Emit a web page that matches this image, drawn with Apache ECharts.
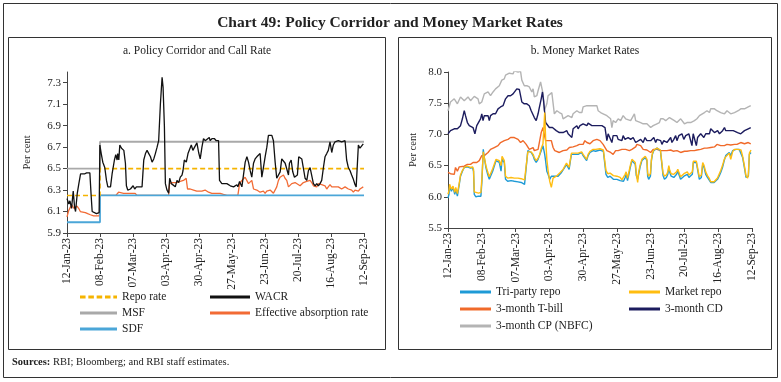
<!DOCTYPE html>
<html><head><meta charset="utf-8">
<script src="https://cdn.jsdelivr.net/npm/echarts@6/dist/echarts.min.js"></script>
<style>html,body{margin:0;padding:0;background:#fff}#c{width:781px;height:382px}</style>
</head><body><div id="c"></div>
<script>
// ---------- DATA ----------
const xTickDays = [0, 27, 54, 81, 108, 135, 162, 189, 216, 243]; // days since 12-Jan-23
const xTickLabels = ['12-Jan-23','08-Feb-23','07-Mar-23','03-Apr-23','30-Apr-23','27-May-23','23-Jun-23','20-Jul-23','16-Aug-23','12-Sep-23'];
const leftYTicks = [5.9, 6.1, 6.3, 6.5, 6.7, 6.9, 7.1, 7.3];
const rightYTicks = [5.5, 6.0, 6.5, 7.0, 7.5, 8.0];

// Panel a: policy corridor (step changes)
const policyDays = [0, 27, 243];
const repoRate = [6.25, 6.5, 6.5];
const msfRate = [6.5, 6.75, 6.75];
const sdfRate = [6.0, 6.25, 6.25];

// WACR [day, %]
const wacr = [[0,6.22],[1.5,6.17],[2.4,6.20],[3.7,6.13],[5.1,6.29],[6.2,6.14],[7,6.10],[8.4,6.27],[9.7,6.36],[11.1,6.45],[12.4,6.46],[14.3,6.45],[16,6.46],[17.6,6.45],[18.7,6.46],[19.8,6.24],[20.6,6.10],[22,6.10],[24.1,6.08],[25.5,6.09],[26.3,6.09],[26.9,6.72],[28,6.64],[29.3,6.56],[30.9,6.51],[32.3,6.39],[33.4,6.33],[35.6,6.33],[36.9,6.45],[38.8,6.58],[39.9,6.63],[41,6.58],[41.5,6.64],[42.4,6.58],[43.2,6.72],[44.6,6.69],[46.5,6.67],[47.8,6.55],[48.6,6.34],[49.7,6.30],[51.9,6.31],[54.1,6.34],[55.4,6.31],[56.8,6.33],[58.7,6.33],[60,6.34],[61.4,6.33],[62.8,6.58],[64.2,6.64],[65.5,6.67],[66.9,6.64],[68.3,6.61],[69.6,6.56],[71,6.59],[72.3,6.64],[73.7,6.70],[75,6.76],[76.4,7.10],[77.8,7.35],[78.6,7.26],[79.7,6.89],[80.5,6.36],[81.8,6.30],[83.2,6.27],[84,6.41],[85.4,6.36],[86.7,6.35],[88.6,6.33],[90,6.39],[91.4,6.37],[92.7,6.42],[94.1,6.44],[94.9,6.48],[96,6.58],[97.6,6.56],[99,6.64],[100.3,6.65],[101.7,6.72],[103,6.67],[104.4,6.70],[106.3,6.74],[107.7,6.65],[109,6.59],[110.4,6.70],[111.7,6.78],[113.1,6.76],[114.5,6.75],[116.4,6.79],[117.2,6.76],[118.6,6.78],[120.5,6.78],[122.1,6.76],[124,6.76],[124.8,6.39],[126.7,6.36],[128.1,6.37],[130.8,6.36],[133.6,6.34],[136.3,6.33],[137.6,6.33],[139,6.35],[139.8,6.33],[141.2,6.38],[143.1,6.33],[144.4,6.34],[145.8,6.56],[147.2,6.61],[148.5,6.56],[149.9,6.48],[151.2,6.42],[152.6,6.55],[153.9,6.59],[155.3,6.61],[156.7,6.62],[158,6.64],[159.4,6.42],[160.7,6.51],[162.1,6.61],[163.5,6.70],[164.8,6.81],[166.2,6.82],[167.6,6.81],[168.9,6.76],[170.3,6.56],[171.6,6.41],[173,6.42],[174.4,6.47],[175.7,6.59],[177.1,6.58],[178.5,6.55],[179.8,6.56],[181.2,6.44],[182,6.55],[183.4,6.58],[184.7,6.47],[186.1,6.42],[187.5,6.41],[188.5,6.44],[189.6,6.61],[190.7,6.61],[192.1,6.59],[193.4,6.59],[194.8,6.41],[196.2,6.39],[197.5,6.48],[198.9,6.51],[200.2,6.50],[201.6,6.36],[203,6.34],[204.3,6.36],[205.7,6.34],[207,6.36],[208.4,6.39],[209.8,6.51],[211.1,6.61],[212.5,6.64],[213.8,6.67],[215.2,6.75],[216.6,6.65],[217.9,6.72],[219.3,6.75],[220.6,6.76],[222,6.76],[223.4,6.75],[224.7,6.75],[226.1,6.75],[227.5,6.76],[228.8,6.58],[230.2,6.51],[231.6,6.48],[232.9,6.44],[234.3,6.40],[235.7,6.35],[236.6,6.33],[238.4,6.72],[239.7,6.69],[241.1,6.69],[242.4,6.73]];

// Effective absorption rate [day, %]
const effAbsorption = [[0,6.05],[1.4,6.11],[2.7,6.14],[4.1,6.16],[5.4,6.13],[6.8,6.14],[8.2,6.15],[9.5,6.13],[10.9,6.10],[12.3,6.09],[15,6.09],[16.9,6.08],[19.1,6.07],[21.8,6.06],[24.5,6.06],[26.5,6.06],[27,6.25],[40,6.25],[42.2,6.28],[43.6,6.29],[46.3,6.27],[49,6.27],[55.8,6.27],[57.2,6.25],[83.1,6.25],[83.9,6.36],[85.8,6.37],[89.9,6.37],[92.6,6.38],[95.3,6.39],[97.5,6.41],[98.6,6.31],[100.8,6.31],[103.5,6.30],[106.2,6.29],[110.3,6.29],[113,6.30],[115.8,6.28],[118.5,6.27],[122.6,6.27],[125.3,6.27],[128,6.26],[130.8,6.25],[139.8,6.25],[141.2,6.36],[143.1,6.39],[145.7,6.42],[147.1,6.41],[148.5,6.36],[149.8,6.37],[151.2,6.39],[152.6,6.31],[155.3,6.30],[158,6.28],[160.7,6.29],[162.1,6.27],[163.4,6.29],[166.2,6.30],[168.9,6.27],[170.2,6.28],[171.6,6.33],[173,6.39],[174.3,6.42],[175.7,6.41],[177.1,6.44],[178.4,6.41],[179.8,6.39],[181.2,6.33],[183.9,6.36],[186.6,6.37],[188,6.36],[190.7,6.34],[193.4,6.37],[196.1,6.38],[198.9,6.39],[200.2,6.37],[201.6,6.34],[204.3,6.33],[205.7,6.36],[208.4,6.35],[211.1,6.34],[212.5,6.31],[213.8,6.33],[215.2,6.35],[216.6,6.33],[217.9,6.34],[219.3,6.33],[222,6.33],[224.7,6.31],[227.5,6.33],[230.2,6.31],[232.9,6.30],[234.3,6.28],[235.6,6.30],[237,6.30],[238.4,6.29],[239.7,6.31],[241.1,6.31],[242.4,6.33]];

// Panel b: repo rates on a shared day list
const repoDays = [0,0.8,1.3,2.7,4,5.4,6.2,7.5,9,10,
 11.5,13,14,15.5,17,18,19.6,20.4,21,22.3,
 24.4,26.3,27.1,28.2,29,30.3,31.7,33,34.3,35.7,
 37,38.4,39.7,41,42.4,43.2,44.3,45,46,47.7,
 50.4,53,56,58.5,61.2,62.5,63.8,65.2,66.5,68,
 69,70.5,72,73,74.6,75.9,77.3,78,79,80,
 81.3,82.6,84,85.3,86.6,88,89.3,90.7,92,93.3,
 94.7,96,96.8,98,98.7,100,101.4,102.7,104,105.4,
 106.8,108,109.4,110.8,112,113.5,115,116,118,119,
 121.5,123,124.2,125.5,126.3,127.7,129.6,131,132.2,133.6,
 135,136.3,137.6,139,140.3,141.6,142.4,143.5,144.6,145.7,
 147,148.3,149.7,150.5,151.6,152.4,153.7,155,156.4,157.7,
 159,159.6,160.4,161.8,162.6,163.4,164.5,165.8,167.1,168.5,
 169.8,171.1,171.9,173,174.6,175.7,176.5,177.3,178.4,179.5,
 180.5,181.6,182.7,183.7,184.8,185.9,187.2,188.6,189.9,191.3,
 192.6,193.9,195.3,196.1,197.2,198.5,199.8,200.9,202.5,203.6,
 204.7,206,207.4,208.7,210,211.4,212.7,214,215.4,216.7,
 218,219.4,220.8,222,223.4,224.8,226,227.5,228.8,230.2,
 231.5,232.8,234.2,235.5,236.9,238.2,239.5,240.1,240.9,242.2];
const triPartyRepo = [5.98,6.04,6.17,6.09,6.15,6.04,6.12,6.01,6.20,6.33,
 6.41,6.47,6.46,6.48,6.47,6.46,6.47,6.41,6.04,6.00,
 6.01,6.01,6.25,6.76,6.63,6.47,6.36,6.28,6.25,6.41,
 6.44,6.58,6.58,6.55,6.41,6.60,6.58,6.55,6.28,6.25,
 6.26,6.25,6.24,6.23,6.20,6.23,6.74,6.71,6.71,6.66,
 6.60,6.55,6.60,6.63,6.74,6.82,6.68,6.58,6.41,6.36,
 6.28,6.33,6.36,6.33,6.31,6.33,6.36,6.39,6.41,6.47,
 6.52,6.55,6.44,6.60,6.68,6.71,6.68,6.71,6.68,6.66,
 6.71,6.66,6.63,6.58,6.66,6.71,6.73,6.74,6.73,6.74,
 6.75,6.74,6.73,6.71,6.36,6.31,6.33,6.31,6.28,6.31,
 6.28,6.25,6.26,6.23,6.25,6.31,6.36,6.26,6.36,6.47,
 6.58,6.60,6.52,6.34,6.28,6.36,6.49,6.58,6.60,6.63,
 6.58,6.33,6.28,6.33,6.58,6.68,6.74,6.76,6.78,6.75,
 6.74,6.71,6.34,6.28,6.31,6.36,6.47,6.39,6.33,6.31,
 6.31,6.33,6.36,6.41,6.39,6.28,6.31,6.33,6.31,6.36,
 6.31,6.33,6.36,6.55,6.58,6.55,6.52,6.28,6.31,6.52,
 6.47,6.36,6.31,6.28,6.23,6.20,6.23,6.25,6.28,6.33,
 6.39,6.47,6.58,6.66,6.68,6.71,6.66,6.74,6.76,6.76,
 6.75,6.76,6.74,6.63,6.47,6.31,6.28,6.33,6.68,6.71];
const marketRepo = [6.04,6.10,6.20,6.12,6.17,6.07,6.15,6.05,6.22,6.35,
 6.42,6.47,6.47,6.49,6.48,6.47,6.48,6.44,6.08,6.06,
 6.06,6.07,6.30,6.72,6.63,6.50,6.40,6.32,6.30,6.45,
 6.48,6.60,6.62,6.58,6.50,6.65,6.62,6.58,6.33,6.30,
 6.31,6.30,6.30,6.29,6.27,6.28,6.72,6.72,6.72,6.68,
 6.63,6.58,6.62,6.66,6.78,6.85,7.35,6.95,6.60,6.42,
 6.25,6.15,6.30,6.33,6.33,6.35,6.38,6.41,6.44,6.49,
 6.54,6.57,6.47,6.62,6.70,6.72,6.70,6.72,6.70,6.68,
 6.72,6.68,6.65,6.60,6.68,6.73,6.75,6.76,6.76,6.77,
 6.77,6.76,6.75,6.73,6.42,6.37,6.38,6.36,6.34,6.36,
 6.33,6.30,6.31,6.27,6.30,6.36,6.40,6.30,6.40,6.50,
 6.60,6.62,6.55,6.38,6.23,6.40,6.52,6.60,6.62,6.65,
 6.60,6.38,6.33,6.37,6.60,6.70,6.75,6.77,6.78,6.76,
 6.75,6.72,6.38,6.33,6.35,6.40,6.50,6.42,6.37,6.35,
 6.36,6.38,6.40,6.44,6.42,6.32,6.35,6.37,6.35,6.40,
 6.35,6.37,6.40,6.57,6.60,6.57,6.55,6.32,6.35,6.55,
 6.50,6.40,6.34,6.30,6.24,6.21,6.24,6.27,6.30,6.36,
 6.42,6.50,6.60,6.64,6.62,6.70,6.60,6.72,6.76,6.76,
 6.76,6.77,6.75,6.65,6.50,6.34,6.30,6.36,6.70,6.75];

// 3-month T-bill [day, %]
const tbill3m = [[0,6.39],[2,6.37],[5,6.36],[6,6.47],[7.5,6.41],[9,6.48],[10,6.47],[13,6.49],[15.5,6.52],[18,6.52],[20,6.55],[23,6.55],[25,6.58],[27,6.66],[29,6.66],[32,6.71],[34,6.76],[37,6.79],[40,6.82],[42,6.87],[45,6.90],[48,6.92],[50,6.95],[53,6.95],[56,6.92],[58,6.87],[60,6.90],[62.5,6.84],[64,6.84],[65,6.76],[66.5,6.76],[68,6.79],[69,6.74],[70.5,6.75],[72,6.76],[73,6.87],[74.5,7.03],[76,7.11],[76.7,7.03],[78,6.90],[80,6.90],[82.6,6.90],[84,6.79],[85.3,6.74],[86.6,6.71],[89,6.71],[92,6.74],[95,6.75],[97,6.79],[100,6.80],[103,6.82],[105,6.84],[108,6.84],[109.4,6.90],[111,6.87],[112,6.84],[113.5,6.85],[116,6.90],[119,6.92],[121.5,6.90],[124,6.84],[125.5,6.82],[127,6.74],[130,6.71],[132,6.68],[134,6.74],[136,6.74],[139,6.76],[142,6.76],[145,6.74],[147,6.76],[150,6.80],[151,6.84],[152,6.87],[154,6.82],[156,6.76],[159,6.75],[162,6.71],[164,6.76],[167,6.76],[170,6.74],[173,6.74],[175,6.74],[178,6.75],[180,6.73],[183,6.74],[186,6.71],[189,6.73],[191,6.73],[194,6.74],[197,6.74],[199,6.75],[202,6.76],[205,6.78],[207,6.78],[210,6.79],[213,6.80],[215,6.84],[218,6.82],[221,6.82],[223,6.84],[226,6.83],[229,6.84],[231,6.84],[234,6.87],[237,6.85],[240,6.87],[242,6.85]];

// 3-month CD [day, %]
const cd3m = [[0,7.01],[2,7.06],[5,7.09],[7.5,7.09],[10,7.14],[11.5,7.25],[13,7.38],[14,7.30],[15.5,7.19],[17,7.14],[18,7.11],[20,7.11],[21.5,7.01],[23,7.14],[24.5,7.17],[26,7.25],[27,7.33],[28,7.22],[29,7.30],[30,7.27],[32,7.30],[33,7.22],[34,7.30],[36,7.33],[38,7.33],[40,7.41],[42,7.44],[44,7.46],[45,7.49],[46,7.57],[48,7.62],[50,7.62],[52,7.65],[53,7.68],[55,7.73],[57,7.72],[58,7.62],[59,7.52],[61,7.49],[63,7.49],[65,7.46],[66.5,7.38],[68,7.35],[69,7.27],[70.5,7.22],[72,7.33],[73,7.43],[74.5,7.57],[75.5,7.68],[76.5,7.52],[78,7.19],[79,7.17],[81,7.11],[82,7.14],[83.5,7.11],[84.5,7.09],[86.5,7.06],[89,7.03],[92,7.03],[93,7.06],[95,7.06],[96,7.01],[97.5,7.03],[99,6.95],[100,7.09],[101.5,7.11],[103,7.14],[104,7.09],[105.5,7.14],[107,7.11],[108,7.17],[111,7.14],[112,7.18],[113.5,7.17],[115,7.14],[116,7.17],[117.5,7.14],[119,7.17],[120,7.14],[121.5,7.11],[123,7.14],[124,7.11],[125.5,7.11],[127,6.90],[128,7.01],[129.5,6.98],[131,6.87],[132,6.98],[133.5,6.95],[135,6.98],[136,6.92],[137.5,6.95],[139,6.90],[140,6.98],[141.5,6.92],[143,6.90],[144,6.95],[146,6.92],[147,6.90],[148,6.95],[150,6.87],[151,6.90],[154,6.92],[156,6.87],[157.5,6.95],[159,6.90],[160.5,6.87],[162,6.90],[163,6.87],[164.5,6.95],[166,6.87],[167,6.92],[168.5,6.90],[170,6.90],[171,6.84],[172.5,6.90],[174,6.92],[175,6.87],[176.5,6.90],[178,6.95],[179,6.87],[180.5,6.92],[182,6.98],[183,6.90],[184.5,6.98],[186,6.95],[187,7.01],[188.5,6.92],[190,6.98],[191,6.95],[192.5,7.01],[194,7.03],[195,6.82],[196,7.01],[197,6.98],[198.5,6.82],[199.5,6.95],[200.5,6.98],[202,7.01],[203,6.98],[204.5,6.95],[206,7.01],[207.5,7.03],[209,7.01],[210,7.09],[211.5,7.06],[213,7.03],[214,7.03],[215.5,7.06],[217,7.01],[218,7.03],[219.5,7.06],[221,7.11],[222,7.06],[223.5,7.03],[225,7.06],[228,7.06],[231.5,7.03],[234,7.01],[237,7.06],[240,7.09],[242,7.11]];

// 3-month CP (NBFC) [day, %]
const cp3m = [[0,7.38],[2,7.52],[5,7.57],[7.5,7.49],[10,7.60],[13,7.54],[16,7.60],[18,7.54],[21,7.61],[24,7.57],[25,7.49],[27,7.52],[29,7.65],[32,7.68],[34,7.62],[36,7.68],[38,7.73],[41,7.78],[43,7.87],[45,7.89],[46,7.95],[49,7.98],[50,8.0],[52,7.97],[53,8.02],[56,8.0],[58,8.01],[59,7.87],[61,7.78],[63,7.78],[65,7.76],[67,7.68],[68,7.73],[69,7.60],[71,7.62],[72,7.70],[74,7.84],[75,7.87],[76,7.65],[77,7.38],[79,7.49],[80,7.62],[81,7.65],[83,7.67],[84,7.65],[85,7.33],[87,7.38],[89,7.35],[91,7.33],[92,7.25],[93,7.27],[96,7.30],[99,7.27],[100,7.33],[103,7.38],[105,7.35],[107,7.35],[108,7.44],[109,7.46],[111,7.46],[112,7.49],[113,7.46],[116,7.46],[117,7.44],[119,7.46],[120,7.38],[122,7.35],[124,7.33],[127,7.30],[130,7.25],[131,7.11],[132,7.22],[134,7.19],[136,7.25],[138,7.22],[140,7.30],[142,7.25],[143,7.25],[146,7.22],[147,7.19],[149,7.33],[150,7.22],[151,7.22],[154,7.19],[156,7.17],[159,7.17],[162,7.11],[164,7.14],[167,7.17],[169,7.19],[170,7.25],[172,7.25],[174,7.22],[175,7.22],[177,7.27],[178,7.25],[181,7.22],[183,7.19],[186,7.25],[189,7.17],[191,7.19],[194,7.19],[197,7.22],[199,7.25],[201,7.30],[202,7.33],[205,7.35],[207,7.38],[209,7.35],[210,7.41],[213,7.41],[215,7.38],[218,7.35],[221,7.33],[223,7.38],[226,7.33],[229,7.35],[232,7.38],[234,7.41],[237,7.41],[240,7.44],[242,7.46]];

// ---------- CHART ----------
const FONT = 'Liberation Serif';
const TXT = '#222';
const chart = echarts.init(document.getElementById('c'), null, {renderer: 'canvas'});
const zip = (xs, ys) => xs.map((x, i) => [x, ys[i]]);
const xLabel = v => { const i = xTickDays.indexOf(Math.round(v)); return i >= 0 ? xTickLabels[i] : ''; };
const dashIcon = 'path://M0,0H6V2H0Z M9,0H15V2H9Z M18,0H24V2H18Z M27,0H33V2H27Z M36,0H40V2H36Z';

function xAxisCfg(gi) {
  return {
    gridIndex: gi, type: 'value', min: 0, max: 243,
    axisLine: {show: true, onZero: false, lineStyle: {color: '#444', width: 1}},
    axisTick: {show: true, length: 4, lineStyle: {color: '#444'}, customValues: xTickDays},
    axisLabel: {rotate: 90, fontFamily: FONT, fontSize: 11.5, color: TXT, margin: 5, formatter: xLabel, customValues: xTickDays},
    splitLine: {show: false}
  };
}
function yAxisCfg(gi, min, max, ticks, gap) {
  return {
    gridIndex: gi, type: 'value', min: min, max: max,
    name: 'Per cent', nameLocation: 'middle', nameRotate: 90, nameGap: gap,
    nameTextStyle: {fontFamily: FONT, fontSize: 10.5, color: TXT},
    axisLine: {show: true, lineStyle: {color: '#444', width: 1}},
    axisTick: {show: true, length: 4, lineStyle: {color: '#444'}, customValues: ticks},
    axisLabel: {fontFamily: FONT, fontSize: 11, color: TXT, margin: 6, formatter: v => v.toFixed(1), customValues: ticks},
    splitLine: {show: false}
  };
}
const lineBase = {type: 'line', symbol: 'none', showSymbol: false, animation: false};
const legendBase = {
  orient: 'vertical', itemHeight: 3, symbolKeepAspect: false,
  textStyle: {fontFamily: FONT, fontSize: 11.5, color: TXT}, selectedMode: false
};

const option = {
  animation: false,
  backgroundColor: '#fff',
  grid: [
    {left: 67, right: 417, top: 72, bottom: 149},
    {left: 448, right: 29, top: 72, bottom: 154}
  ],
  xAxis: [xAxisCfg(0), xAxisCfg(1)],
  yAxis: [yAxisCfg(0, 5.9, 7.4, leftYTicks, 34), yAxisCfg(1, 5.5, 8.0, rightYTicks, 29)],
  legend: [
    Object.assign({}, legendBase, {left: 75, top: 286, itemWidth: 37, itemGap: 4,
      data: [{name: 'Repo rate', icon: dashIcon}, {name: 'MSF', icon: 'rect'}, {name: 'SDF', icon: 'rect'}]}),
    Object.assign({}, legendBase, {left: 205, top: 286, itemWidth: 40, itemGap: 4,
      data: [{name: 'WACR', icon: 'rect'}, {name: 'Effective absorption rate', icon: 'rect'}]}),
    Object.assign({}, legendBase, {left: 455, top: 281, itemWidth: 31, itemGap: 5,
      data: [{name: 'Tri-party repo', icon: 'rect'}, {name: '3-month T-bill', icon: 'rect'}, {name: '3-month CP (NBFC)', icon: 'rect'}]}),
    Object.assign({}, legendBase, {left: 624, top: 281, itemWidth: 31, itemGap: 5,
      data: [{name: 'Market repo', icon: 'rect'}, {name: '3-month CD', icon: 'rect'}]})
  ],
  series: [
    Object.assign({}, lineBase, {name: 'Repo rate', xAxisIndex: 0, yAxisIndex: 0, step: 'end', z: 4,
      data: zip(policyDays, repoRate), itemStyle: {color: '#f5b400'}, lineStyle: {color: '#f5b400', width: 1.6, type: [5, 3]}}),
    Object.assign({}, lineBase, {name: 'WACR', xAxisIndex: 0, yAxisIndex: 0, z: 6,
      data: wacr, itemStyle: {color: '#111'}, lineStyle: {color: '#111', width: 1.3}}),
    Object.assign({}, lineBase, {name: 'MSF', xAxisIndex: 0, yAxisIndex: 0, step: 'end', z: 2,
      data: zip(policyDays, msfRate), itemStyle: {color: '#a9a9a9'}, lineStyle: {color: '#a9a9a9', width: 1.8}}),
    Object.assign({}, lineBase, {name: 'Effective absorption rate', xAxisIndex: 0, yAxisIndex: 0, z: 3,
      data: effAbsorption, itemStyle: {color: '#f26b35'}, lineStyle: {color: '#f26b35', width: 1.3}}),
    Object.assign({}, lineBase, {name: 'SDF', xAxisIndex: 0, yAxisIndex: 0, step: 'end', z: 3.5,
      data: zip(policyDays, sdfRate), itemStyle: {color: '#4ba6d8'}, lineStyle: {color: '#4ba6d8', width: 1.8}}),

    Object.assign({}, lineBase, {name: '3-month CP (NBFC)', xAxisIndex: 1, yAxisIndex: 1, z: 2,
      data: cp3m, itemStyle: {color: '#b4b4b4'}, lineStyle: {color: '#b4b4b4', width: 1.4}}),
    Object.assign({}, lineBase, {name: '3-month CD', xAxisIndex: 1, yAxisIndex: 1, z: 3,
      data: cd3m, itemStyle: {color: '#1c1c5e'}, lineStyle: {color: '#1c1c5e', width: 1.4}}),
    Object.assign({}, lineBase, {name: '3-month T-bill', xAxisIndex: 1, yAxisIndex: 1, z: 4,
      data: tbill3m, itemStyle: {color: '#f06a2a'}, lineStyle: {color: '#f06a2a', width: 1.4}}),
    Object.assign({}, lineBase, {name: 'Tri-party repo', xAxisIndex: 1, yAxisIndex: 1, z: 5,
      data: zip(repoDays, triPartyRepo), itemStyle: {color: '#1e9ad6'}, lineStyle: {color: '#1e9ad6', width: 1.4}}),
    Object.assign({}, lineBase, {name: 'Market repo', xAxisIndex: 1, yAxisIndex: 1, z: 6,
      data: zip(repoDays, marketRepo), itemStyle: {color: '#ffbd10'}, lineStyle: {color: '#ffbd10', width: 1.4}})
  ],
  graphic: [
    {type: 'rect', silent: true, shape: {x: 3.5, y: 3.5, width: 774, height: 374}, style: {fill: 'none', stroke: '#333', lineWidth: 1}},
    {type: 'rect', silent: true, shape: {x: 8.5, y: 37.5, width: 377, height: 312}, style: {fill: 'none', stroke: '#333', lineWidth: 1}},
    {type: 'rect', silent: true, shape: {x: 398.5, y: 37.5, width: 373, height: 312}, style: {fill: 'none', stroke: '#333', lineWidth: 1}},
    {type: 'text', silent: true, x: 390, y: 23, style: {text: 'Chart 49: Policy Corridor and Money Market Rates', font: 'bold 15.5px "Liberation Serif"', fill: '#222', textAlign: 'center', textVerticalAlign: 'middle'}},
    {type: 'text', silent: true, x: 197, y: 51, style: {text: 'a. Policy Corridor and Call Rate', font: '11.5px "Liberation Serif"', fill: '#222', textAlign: 'center', textVerticalAlign: 'middle'}},
    {type: 'text', silent: true, x: 585, y: 51, style: {text: 'b. Money Market Rates', font: '11.5px "Liberation Serif"', fill: '#222', textAlign: 'center', textVerticalAlign: 'middle'}},
    {type: 'text', silent: true, x: 12, y: 362, style: {
      text: '{b|Sources:} RBI; Bloomberg; and RBI staff estimates.',
      rich: {b: {fontWeight: 'bold', fontFamily: FONT, fontSize: 10.5, fill: '#222'}},
      font: '10.5px "Liberation Serif"', fill: '#222', textVerticalAlign: 'middle'}}
  ]
};
chart.setOption(option);
</script>
</body></html>
